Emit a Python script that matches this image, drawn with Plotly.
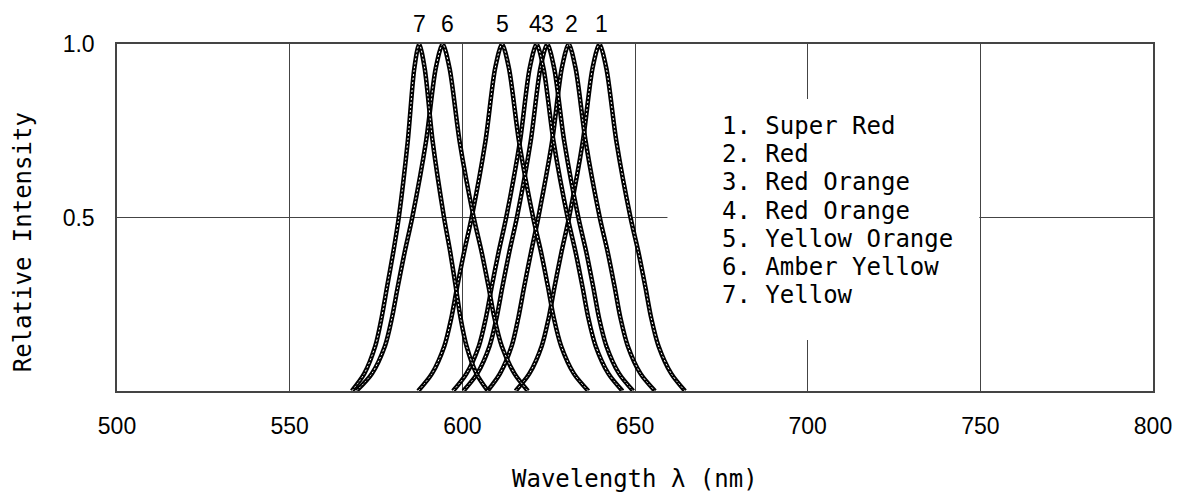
import plotly.graph_objects as go

# Relative intensity levels at which each curve was read (left tail -> peak -> right tail)
LEVELS = [0, 0.05, 0.13, 0.21, 0.3, 0.4, 0.5, 0.72, 0.93, 1.0,
          0.93, 0.72, 0.5, 0.4, 0.3, 0.21, 0.13, 0.05, 0]

# Wavelengths (nm) for each curve at the LEVELS above
WL_1 = [615.4, 619.4, 623.0, 625.0, 626.7, 628.7, 630.9, 634.9, 637.7, 639.7,
        641.7, 644.6, 648.7, 651.0, 653.0, 654.7, 656.8, 660.5, 664.5]
WL_2 = [607.3, 610.9, 614.3, 616.2, 617.9, 619.9, 622.0, 626.0, 628.8, 630.8,
        632.8, 635.7, 639.8, 642.1, 644.1, 645.8, 647.9, 651.6, 655.8]
WL_3 = [600.3, 604.3, 607.9, 609.9, 611.6, 613.6, 615.8, 619.8, 622.6, 624.6,
        626.6, 629.5, 633.6, 635.9, 637.9, 639.6, 641.7, 645.4, 649.5]
WL_4 = [597.3, 601.2, 604.8, 606.8, 608.5, 610.5, 612.7, 616.7, 619.5, 621.5,
        623.5, 626.4, 630.5, 632.8, 634.8, 636.5, 638.6, 642.3, 646.4]
WL_5 = [587.2, 591.2, 594.8, 596.8, 598.5, 600.5, 602.7, 606.7, 609.5, 611.5,
        613.5, 616.4, 620.5, 622.8, 624.8, 626.5, 628.6, 632.3, 636.5]
WL_6 = [569.3, 573.8, 577.6, 579.6, 581.3, 583.3, 585.5, 589.5, 592.3, 594.3,
        596.3, 599.2, 603.3, 605.6, 607.6, 609.3, 611.4, 615.1, 619.0]
WL_7 = [568.0, 571.6, 574.8, 576.6, 578.2, 580.0, 581.6, 584.2, 586.1, 587.5,
        589.1, 591.4, 594.7, 596.5, 598.1, 599.5, 601.2, 604.1, 607.4]

CURVES = [WL_1, WL_2, WL_3, WL_4, WL_5, WL_6, WL_7]
CURVE_NUMBERS = ["1", "2", "3", "4", "5", "6", "7"]
PEAK_LABEL_X = [640.3, 631.7, 624.8, 621.3, 611.5, 595.6, 587.5]

LEGEND_LINES = ["1. Super Red", "2. Red", "3. Red Orange", "4. Red Orange",
                "5. Yellow Orange", "6. Amber Yellow", "7. Yellow"]

X_TICKS = [500, 550, 600, 650, 700, 750, 800]
Y_TICKS = [0.5, 1.0]
Y_TICK_TEXT = ["0.5", "1.0"]

# legend box (white patch hiding grid lines), in data units
LEGEND_BOX_X = [659.4, 749.7]
LEGEND_BOX_Y = [0.147, 0.8415]

GRID = "#444444"
MONO = "DejaVu Sans Mono"
SANS = "Liberation Sans, Arial, sans-serif"

fig = go.Figure()
for wl in CURVES:
    fig.add_trace(go.Scatter(
        x=wl, y=LEVELS, mode="lines", hoverinfo="skip", showlegend=False,
        line=dict(color="black", width=4.5, shape="spline", smoothing=0.8)))
    fig.add_trace(go.Scatter(
        x=wl, y=LEVELS, mode="lines", hoverinfo="skip", showlegend=False,
        line=dict(color="white", width=1, dash="2px,2px", shape="spline", smoothing=0.8)))

fig.add_shape(type="rect", xref="x", yref="y",
              x0=LEGEND_BOX_X[0], x1=LEGEND_BOX_X[1],
              y0=LEGEND_BOX_Y[0], y1=LEGEND_BOX_Y[1],
              fillcolor="white", line=dict(width=0), layer="between")

annotations = []
for num, xpos in zip(CURVE_NUMBERS, PEAK_LABEL_X):
    annotations.append(dict(x=xpos, xref="x", y=1.0576, yref="paper", text=num,
                            showarrow=False, xanchor="center", yanchor="middle",
                            font=dict(family=SANS, size=23, color="black")))
for i, line in enumerate(LEGEND_LINES):
    annotations.append(dict(x=0.582, xref="paper", y=(391 - (126 + 28.2 * i)) / 347,
                            yref="paper", text=line, showarrow=False,
                            xanchor="left", yanchor="middle",
                            font=dict(family=MONO, size=24, color="black")))
annotations.append(dict(x=0.5, xref="paper", y=-0.255, yref="paper",
                        text="Wavelength λ (nm)", showarrow=False,
                        xanchor="center", yanchor="middle",
                        font=dict(family=MONO, size=24, color="black")))
annotations.append(dict(x=-0.0905, xref="paper", y=0.4294, yref="paper",
                        text="Relative Intensity", showarrow=False, textangle=-90,
                        xanchor="center", yanchor="middle",
                        font=dict(family=MONO, size=24, color="black")))

# The page body has an 8px margin, so the figure is 8px smaller and shifted.
fig.update_layout(
    width=1176, height=486,
    margin=dict(l=109, r=28, t=36, b=103),
    paper_bgcolor="white", plot_bgcolor="white",
    annotations=annotations,
    xaxis=dict(range=[500, 800], tickvals=X_TICKS, ticktext=[str(v) for v in X_TICKS],
               showgrid=True, gridcolor=GRID, gridwidth=1, zeroline=False,
               showline=True, linecolor=GRID, linewidth=1.5, mirror=True,
               ticks="", ticklabelstandoff=14,
               tickfont=dict(family=SANS, size=23, color="black")),
    yaxis=dict(range=[0, 1], tickvals=Y_TICKS, ticktext=Y_TICK_TEXT,
               showgrid=True, gridcolor=GRID, gridwidth=1, zeroline=False,
               showline=True, linecolor=GRID, linewidth=1.5, mirror=True,
               ticks="", ticklabelstandoff=16,
               tickfont=dict(family=SANS, size=23, color="black")),
)

fig.write_html("out.html")
